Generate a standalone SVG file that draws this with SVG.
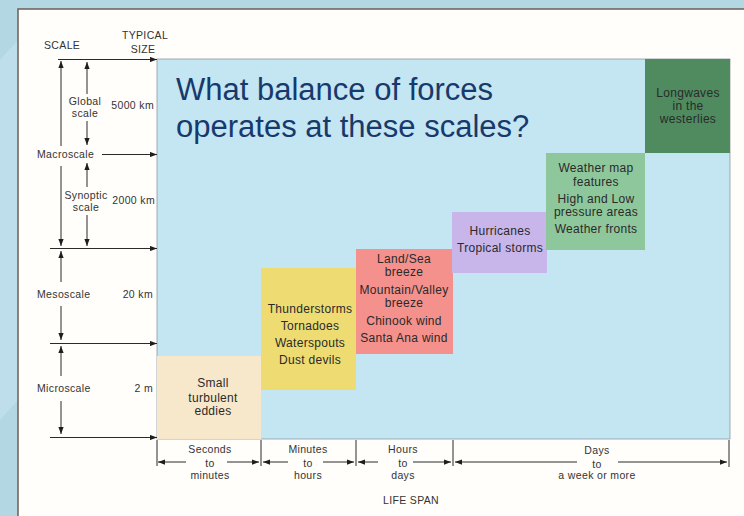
<svg xmlns="http://www.w3.org/2000/svg" width="744" height="516" viewBox="0 0 744 516">
  <defs>
    <marker id="arr" viewBox="0 0 8 6" refX="8" refY="3" markerWidth="7" markerHeight="5.5" markerUnits="userSpaceOnUse" orient="auto-start-reverse">
      <path d="M0,0 L8,3 L0,6 Z" fill="#1e1e1e"/>
    </marker>
    <style>
      .ax { stroke: #2a2a2a; stroke-width: 1; fill: none; }
      .lbl { font-family: "Liberation Sans", Arial, sans-serif; font-size: 10.5px; fill: #333; letter-spacing: 0.35px; }
      .mid { text-anchor: middle; }
      .end { text-anchor: end; }
      .box { font-family: "Liberation Sans", Arial, sans-serif; font-size: 12px; fill: #2a2a2a; text-anchor: middle; letter-spacing: 0.3px; }
      .title { font-family: "Liberation Sans", Arial, sans-serif; font-size: 31px; fill: #17396b; }
    </style>
  </defs>

  <!-- backdrop and paper panel -->
  <rect width="744" height="516" fill="#b4d7e4"/>
  <path d="M0,60 L18,40 L18,400 L0,420 Z" fill="#c3e2ee" opacity="0.6"/>
  <rect x="18" y="9" width="740" height="520" fill="#fffefb" stroke="#6e5e55" stroke-width="1.5"/>

  <!-- plot area -->
  <rect id="plot" x="157" y="59" width="573" height="380" fill="#c4e5f2" stroke="#8c9aa0" stroke-width="0.8"/>

  <g id="eddies">
    <rect x="157" y="356" width="104" height="83" fill="#f7e8cc"/>
    <text class="box" x="213" y="387">Small</text>
    <text class="box" x="213" y="402">turbulent</text>
    <text class="box" x="213" y="415">eddies</text>
  </g>

  <g id="thunderstorms">
    <rect x="261" y="268" width="95" height="122" fill="#eedb72"/>
    <text class="box" x="310" y="313">Thunderstorms</text>
    <text class="box" x="310" y="330">Tornadoes</text>
    <text class="box" x="310" y="347">Waterspouts</text>
    <text class="box" x="310" y="364">Dust devils</text>
  </g>

  <g id="breezes">
    <rect x="356" y="249" width="97" height="105" fill="#f4918d"/>
    <text class="box" x="404" y="263">Land/Sea</text>
    <text class="box" x="404" y="276">breeze</text>
    <text class="box" x="404" y="294">Mountain/Valley</text>
    <text class="box" x="404" y="307">breeze</text>
    <text class="box" x="404" y="325">Chinook wind</text>
    <text class="box" x="404" y="342">Santa Ana wind</text>
  </g>

  <g id="hurricanes">
    <rect x="452" y="212" width="95" height="61" fill="#c8b5ea"/>
    <text class="box" x="500" y="235">Hurricanes</text>
    <text class="box" x="500" y="252">Tropical storms</text>
  </g>

  <g id="weathermap">
    <rect x="546" y="153" width="99" height="97" fill="#8ec79b"/>
    <text class="box" x="596" y="172">Weather map</text>
    <text class="box" x="596" y="186">features</text>
    <text class="box" x="596" y="203">High and Low</text>
    <text class="box" x="596" y="216">pressure areas</text>
    <text class="box" x="596" y="233">Weather fronts</text>
  </g>

  <g id="longwaves">
    <rect x="645" y="59" width="85" height="94" fill="#4f8b5f"/>
    <text class="box" x="688" y="97">Longwaves</text>
    <text class="box" x="688" y="110">in the</text>
    <text class="box" x="688" y="123">westerlies</text>
  </g>

  <g id="question">
    <text class="title" x="176" y="100">What balance of forces</text>
    <text class="title" x="176" y="137">operates at these scales?</text>
  </g>

  <!-- size axis labels -->
  <g id="size-axis">
    <text class="lbl" x="44" y="49">SCALE</text>
    <text class="lbl mid" x="145" y="39">TYPICAL</text>
    <text class="lbl mid" x="143" y="53">SIZE</text>
    <text class="lbl mid" x="85" y="105">Global</text>
    <text class="lbl mid" x="85" y="117">scale</text>
    <text class="lbl end" x="154" y="109">5000 km</text>
    <text class="lbl" x="37" y="158">Macroscale</text>
    <text class="lbl mid" x="86" y="199">Synoptic</text>
    <text class="lbl mid" x="86" y="211">scale</text>
    <text class="lbl end" x="155" y="204">2000 km</text>
    <text class="lbl" x="37" y="298">Mesoscale</text>
    <text class="lbl end" x="153" y="298">20 km</text>
    <text class="lbl" x="37" y="392">Microscale</text>
    <text class="lbl end" x="153" y="392">2 m</text>
  </g>

  <!-- life span axis labels -->
  <g id="span-axis">
    <text class="lbl mid" x="210" y="453">Seconds</text>
    <text class="lbl mid" x="210" y="467">to</text>
    <text class="lbl mid" x="210" y="479">minutes</text>
    <text class="lbl mid" x="308" y="453">Minutes</text>
    <text class="lbl mid" x="308" y="467">to</text>
    <text class="lbl mid" x="308" y="479">hours</text>
    <text class="lbl mid" x="403" y="453">Hours</text>
    <text class="lbl mid" x="403" y="467">to</text>
    <text class="lbl mid" x="403" y="479">days</text>
    <text class="lbl mid" x="597" y="454">Days</text>
    <text class="lbl mid" x="597" y="468">to</text>
    <text class="lbl mid" x="597" y="479">a week or more</text>
    <text class="lbl mid" x="411" y="504">LIFE SPAN</text>
  </g>

  <g id="connectors" class="ax">
    <!-- scale boundaries -->
    <path d="M58,59.5 H157" marker-end="url(#arr)"/>
    <path d="M102,154.5 H157" marker-end="url(#arr)"/>
    <path d="M50,248.5 H157" marker-end="url(#arr)"/>
    <path d="M50,343.5 H157" marker-end="url(#arr)"/>
    <path d="M50,437.5 H157" marker-end="url(#arr)"/>

    <!-- scale ranges -->
    <path d="M61,61 V146" marker-start="url(#arr)"/>
    <path d="M61,166 V246" marker-end="url(#arr)"/>
    <path d="M61,251 V282" marker-start="url(#arr)"/>
    <path d="M61,306 V340" marker-end="url(#arr)"/>
    <path d="M61,346 V376" marker-start="url(#arr)"/>
    <path d="M61,401 V434" marker-end="url(#arr)"/>

    <path d="M87,62 V94" marker-start="url(#arr)"/>
    <path d="M87,121 V145" marker-end="url(#arr)"/>
    <path d="M87,163 V187" marker-start="url(#arr)"/>
    <path d="M87,215 V246" marker-end="url(#arr)"/>

    <!-- life span ticks -->
    <path d="M157,440 V466 M261,440 V466 M356,440 V466 M453,440 V466 M729,440 V467"/>

    <!-- life span ranges -->
    <path d="M158,462 H186" marker-start="url(#arr)"/>
    <path d="M227,462 H259" marker-end="url(#arr)"/>
    <path d="M263,462 H288" marker-start="url(#arr)"/>
    <path d="M323,462 H354" marker-end="url(#arr)"/>
    <path d="M358,462 H378" marker-start="url(#arr)"/>
    <path d="M413,462 H451" marker-end="url(#arr)"/>
    <path d="M455,462 H577" marker-start="url(#arr)"/>
    <path d="M618,462 H727" marker-end="url(#arr)"/>
  </g>
</svg>
